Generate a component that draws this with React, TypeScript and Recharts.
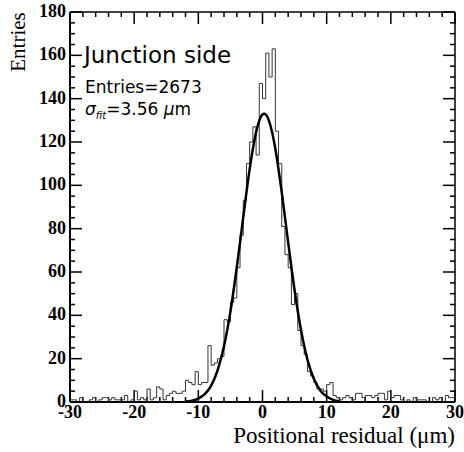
import { ComposedChart, Line, XAxis, YAxis, ReferenceLine } from 'recharts';

// residual histogram, 0.5 um bins from -30 to 30
const binWidth = 0.5;
const xStart = -30;
const counts = [
  1, 1, 0, 2, 0, 0, 1, 2, 0, 1,
  2, 2, 1, 2, 1, 1, 1, 3, 0, 1,
  5, 1, 2, 1, 6, 1, 2, 7, 6, 1,
  3, 4, 5, 4, 4, 5, 10, 9, 8, 14,
  8, 9, 9, 26, 17, 18, 20, 21, 38, 37,
  46, 48, 62, 77, 93, 110, 120, 127, 114, 147,
  140, 161, 150, 163, 125, 110, 81, 68, 62, 45,
  50, 33, 26, 22, 14, 12, 9, 6, 6, 5,
  8, 9, 3, 2, 1, 2, 3, 2, 1, 4,
  4, 2, 3, 3, 2, 3, 4, 4, 1, 5,
  2, 3, 3, 1, 0, 1, 0, 2, 1, 1,
  1, 0, 0, 2, 1, 2, 0, 3, 2, 2,
];

// gaussian fit curve
const fitX = [-12, -11, -10, -9, -8, -7, -6, -5, -4, -3, -2, -1, -0.5, 0, 0.25, 0.5, 1, 1.5, 2, 3, 4, 5, 6, 7, 8, 9, 10, 11, 12];
const fitY = [0.2, 0.6, 1.6, 3.6, 7.6, 14.6, 25.7, 41.7, 62.3, 85.3, 107.5, 124.5, 129.9, 132.7, 133, 132.7, 129.9, 124.5, 116.9, 96.8, 73.7, 51.6, 33.2, 19.6, 10.7, 5.3, 2.5, 1.0, 0.4];

const xTicks = [-30, -28, -26, -24, -22, -20, -18, -16, -14, -12, -10, -8, -6, -4, -2, 0, 2, 4, 6, 8, 10, 12, 14, 16, 18, 20, 22, 24, 26, 28, 30];
const yTicks = [0, 5, 10, 15, 20, 25, 30, 35, 40, 45, 50, 55, 60, 65, 70, 75, 80, 85, 90, 95, 100, 105, 110, 115, 120, 125, 130, 135, 140, 145, 150, 155, 160, 165, 170, 175, 180];

const histData = counts.map((c, i) => ({ x: xStart + i * binWidth, y: c }));
histData.push({ x: xStart + counts.length * binWidth, y: counts[counts.length - 1] });
const fitData = fitX.map((x, i) => ({ x, y: fitY[i] }));

const W = 464;
const H = 452;
const margin = { top: 11, right: 8, bottom: 0, left: 10 };
const xMin = -30;
const xMax = 30;
const yMax = 180;
// plot is ~385 x 390 px; tick lengths converted to data units
const pxPerX = 385 / (xMax - xMin);
const pxPerY = 390 / yMax;
const majorLen = 12;
const minorLen = 5;

const labelFont = '"Liberation Serif", "Times New Roman", serif';

const BottomTick = (props: any) => {
  const { x, y, payload } = props;
  if (payload.value % 10 !== 0) return <g />;
  return (
    <text x={x} y={y + 16} textAnchor="middle" fontFamily={labelFont} fontWeight="bold" fontSize={18} fill="#000">
      {payload.value}
    </text>
  );
};

const LeftTick = (props: any) => {
  const { x, y, payload } = props;
  if (payload.value % 20 !== 0) return <g />;
  return (
    <text x={x - 4} y={y + 5} textAnchor="end" fontFamily={labelFont} fontWeight="bold" fontSize={18} fill="#000">
      {payload.value}
    </text>
  );
};

export default function App() {
  const tickStroke = { stroke: '#000', strokeWidth: 1.5 };
  return (
    <div style={{ position: 'absolute', left: 0, top: 0, width: W, height: H, background: '#fff' }}>
      <ComposedChart width={W} height={H} margin={margin}>
        <XAxis
          xAxisId="bottom"
          dataKey="x"
          type="number"
          domain={[xMin, xMax]}
          ticks={xTicks}
          interval={0}
          allowDataOverflow
          height={50}
          tickSize={0}
          tickMargin={0}
          tickLine={false}
          axisLine={{ stroke: '#000', strokeWidth: 2 }}
          tick={<BottomTick />}
        />
        <XAxis
          xAxisId="top"
          orientation="top"
          type="number"
          domain={[xMin, xMax]}
          height={1}
          tick={false}
          tickLine={false}
          axisLine={{ stroke: '#000', strokeWidth: 1.5 }}
        />
        <YAxis
          yAxisId="left"
          type="number"
          domain={[0, yMax]}
          ticks={yTicks}
          interval={0}
          allowDataOverflow
          width={60}
          tickSize={0}
          tickMargin={0}
          tickLine={false}
          axisLine={{ stroke: '#000', strokeWidth: 2 }}
          tick={<LeftTick />}
        />
        <YAxis
          yAxisId="right"
          orientation="right"
          type="number"
          domain={[0, yMax]}
          width={1}
          tick={false}
          tickLine={false}
          axisLine={{ stroke: '#000', strokeWidth: 1.5 }}
        />

        {/* inward ticks on all four sides of the frame */}
        {xTicks.map((t) => {
          const len = (t % 10 === 0 ? majorLen : minorLen) / pxPerY;
          return [
            <ReferenceLine key={`xb${t}`} xAxisId="bottom" yAxisId="left" segment={[{ x: t, y: 0 }, { x: t, y: len }]} {...tickStroke} />,
            <ReferenceLine key={`xt${t}`} xAxisId="bottom" yAxisId="left" segment={[{ x: t, y: yMax }, { x: t, y: yMax - len }]} {...tickStroke} />,
          ];
        })}
        {yTicks.map((t) => {
          const len = (t % 20 === 0 ? majorLen : minorLen) / pxPerX;
          return [
            <ReferenceLine key={`yl${t}`} xAxisId="bottom" yAxisId="left" segment={[{ x: xMin, y: t }, { x: xMin + len, y: t }]} {...tickStroke} />,
            <ReferenceLine key={`yr${t}`} xAxisId="bottom" yAxisId="left" segment={[{ x: xMax, y: t }, { x: xMax - len, y: t }]} {...tickStroke} />,
          ];
        })}

        <Line
          xAxisId="bottom"
          yAxisId="left"
          data={histData}
          dataKey="y"
          type="stepAfter"
          stroke="#333"
          strokeWidth={1}
          dot={false}
          isAnimationActive={false}
        />
        <Line
          xAxisId="bottom"
          yAxisId="left"
          data={fitData}
          dataKey="y"
          type="monotone"
          stroke="#000"
          strokeWidth={2.5}
          dot={false}
          isAnimationActive={false}
        />
      </ComposedChart>

      <div style={{ position: 'absolute', left: 84, top: 44, fontFamily: '"DejaVu Sans", sans-serif', fontSize: 23, lineHeight: 1, color: '#000' }}>
        Junction side
      </div>
      <div style={{ position: 'absolute', left: 85, top: 79, fontFamily: '"DejaVu Sans", sans-serif', fontSize: 17, lineHeight: 1, color: '#000' }}>
        Entries=2673
      </div>
      <div style={{ position: 'absolute', left: 85, top: 101, fontFamily: '"DejaVu Sans", sans-serif', fontSize: 17, lineHeight: 1, color: '#000', whiteSpace: 'nowrap' }}>
        <span style={{ fontStyle: 'italic' }}>σ</span>
        <sub style={{ fontSize: 10, fontStyle: 'italic' }}>fit</sub>=3.56 <span style={{ fontStyle: 'italic' }}>μ</span>m
      </div>
      <div
        style={{
          position: 'absolute',
          left: 18,
          top: 42,
          transform: 'translate(-50%, -50%) rotate(-90deg)',
          fontFamily: labelFont,
          fontSize: 21,
          lineHeight: 1,
          whiteSpace: 'nowrap',
          color: '#000',
        }}
      >
        Entries
      </div>
      <div style={{ position: 'absolute', right: 9, top: 424, fontFamily: labelFont, fontSize: 23, lineHeight: 1, whiteSpace: 'nowrap', color: '#000' }}>
        Positional residual (μm)
      </div>
    </div>
  );
}
